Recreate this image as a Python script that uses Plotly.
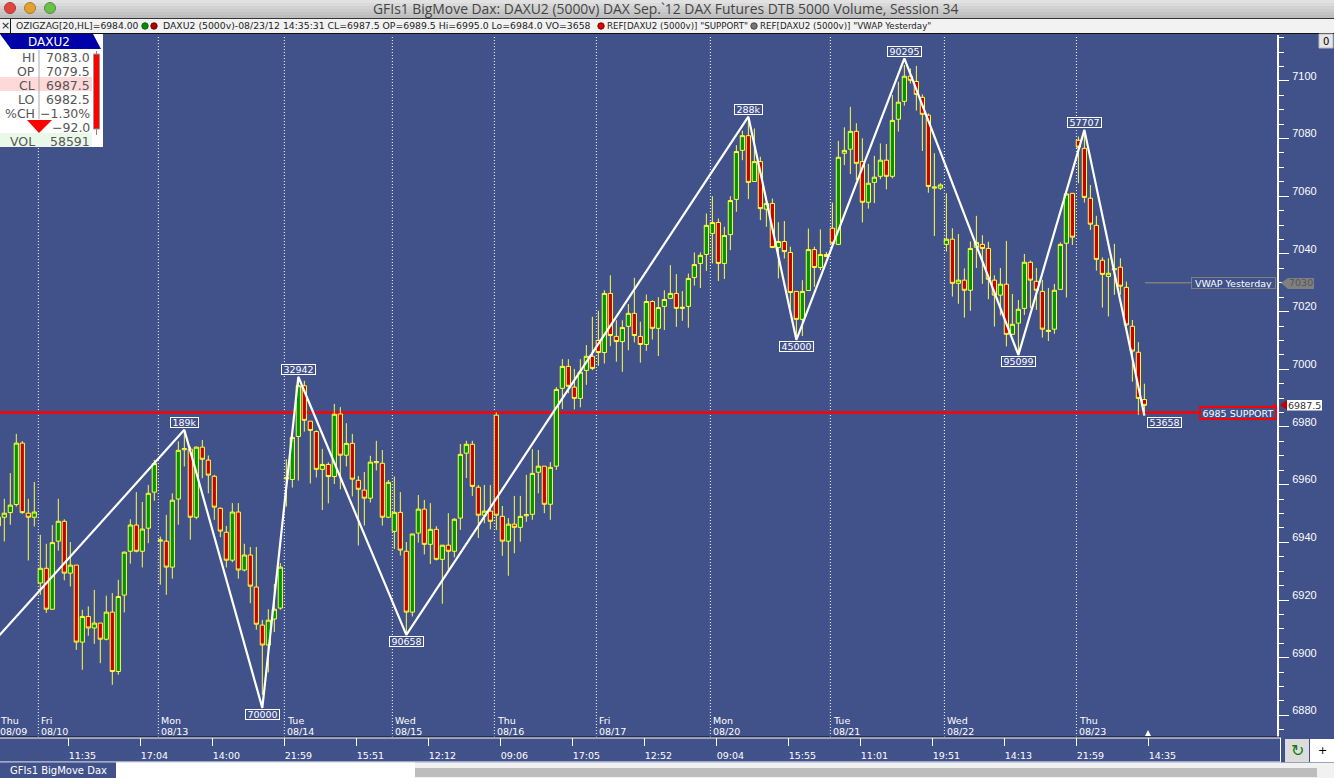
import plotly.graph_objects as go

W, H = 1334, 778
BLUE = '#41518a'
YEL = '#ffff40'

bars = list(range(-1, 191))
opens = [6945.7,6948.7,6950.3,6953.1,6974.4,6950.1,6948.7,6925.9,6931.0,6916.8,6940.4,
    6947.3,6929.3,6932.1,6905.4,6914.3,6910.3,6912.0,6906.4,6915.8,6895.2,
    6921.7,6936.9,6946.0,6936.9,6944.9,6957.4,6940.4,6940.4,6931.4,6955.0,
    6972.1,6972.3,6948.7,6973.0,6968.5,6962.9,6951.8,6943.5,6933.8,6950.5,
    6930.4,6935.6,6924.5,6911.3,6904.4,6913.4,6917.2,6962.0,6961.8,6976.7,
    6994.3,6982.0,6978.4,6965.3,6967.0,6962.8,6984.5,6970.2,6974.3,6961.5,
    6958.1,6955.3,6967.6,6967.4,6948.7,6943.8,6950.4,6936.9,6915.8,6943.2,
    6951.5,6939.3,6944.5,6934.1,6939.0,6936.9,6948.4,6970.9,6974.0,6959.1,
    6949.4,6950.8,6984.1,6949.0,6940.4,6946.3,6945.2,6949.2,6949.7,6964.3,
    6966.4,6953.2,6966.4,6993.4,7001.0,6993.8,6989.9,6999.6,7004.5,7010.0,
    7005.8,7026.3,7011.4,7009.6,7014.9,7019.4,7011.4,7008.6,7023.5,7014.2,
    7021.8,7024.6,7026.3,7021.1,7021.8,7031.8,7036.7,7039.8,7047.1,7050.9,
    7036.7,7046.7,7058.9,7075.9,7081.0,7065.1,7072.0,7055.5,7057.5,7042.2,
    7044.3,7040.5,7027.0,7017.3,7027.3,7041.5,7035.3,7039.8,7048.9,7043.3,
    7074.9,7076.3,7082.5,7072.0,7057.9,7064.8,7066.9,7072.5,7066.9,7086.7,
    7092.9,7101.6,7099.8,7094.3,7088.1,7062.8,7062.8,7043.3,7045.1,7029.8,
    7030.9,7027.4,7042.3,7043.3,7041.9,7030.9,7025.7,7029.5,7012.1,7016.0,
    7021.1,7037.1,7030.5,7027.0,7013.1,7013.9,7027.7,7043.7,7061.0,7079.4,
    7076.6,7059.3,7049.9,7037.8,7032.2,7034.5,7035.4,7028.4,7014.9,7005.9,
    6989.5]
highs = [6948.7,6955.1,6964.0,6977.6,6975.1,6955.1,6960.9,6942.6,6939.5,6946.0,6955.1,
    6948.0,6940.1,6932.1,6916.6,6917.8,6923.5,6912.0,6921.5,6922.4,6927.0,
    6936.8,6948.0,6957.4,6954.0,6959.9,6968.6,6942.0,6949.5,6957.0,6975.0,
    6978.4,6973.2,6973.2,6975.5,6970.1,6963.4,6952.1,6945.7,6953.6,6953.6,
    6939.5,6938.4,6938.4,6913.1,6916.8,6925.6,6932.8,6968.8,6977.0,6996.3,
    6996.0,6982.0,6978.8,6972.4,6967.7,6988.0,6986.9,6981.3,6977.6,6963.0,
    6964.4,6970.0,6975.2,6972.0,6961.6,6962.8,6957.4,6940.1,6942.9,6956.4,
    6954.7,6953.6,6945.6,6939.0,6950.1,6948.4,6974.1,6975.2,6975.2,6959.9,
    6959.9,6959.9,6985.1,6952.6,6948.4,6956.1,6956.1,6963.4,6972.3,6972.0,
    6966.4,6967.8,6993.8,7003.5,7003.5,7000.1,7003.5,7008.4,7018.2,7020.3,
    7027.4,7032.6,7017.0,7017.0,7022.6,7031.7,7016.5,7025.9,7023.9,7025.0,
    7027.4,7036.1,7033.0,7027.1,7033.2,7040.5,7040.5,7054.0,7060.0,7052.3,
    7049.4,7060.0,7077.7,7082.7,7087.5,7083.5,7073.7,7059.8,7059.2,7051.0,
    7051.4,7042.5,7027.0,7030.9,7048.8,7042.5,7048.5,7040.7,7057.8,7079.2,
    7083.9,7091.0,7085.3,7080.1,7071.2,7074.0,7078.3,7078.1,7095.1,7099.7,
    7105.5,7104.3,7105.2,7095.3,7088.7,7074.9,7064.5,7061.0,7048.9,7046.9,
    7035.0,7044.3,7053.2,7046.5,7044.2,7032.6,7035.1,7044.5,7026.1,7024.0,
    7040.0,7037.7,7035.1,7031.0,7028.2,7029.6,7044.0,7061.0,7061.0,7080.7,
    7083.0,7063.9,7053.2,7038.8,7038.5,7043.5,7038.5,7030.4,7017.1,7009.4,
    6995.0]
lows = [6945.7,6940.3,6946.1,6952.4,6949.9,6933.7,6945.5,6921.8,6915.5,6916.6,6937.1,
    6926.8,6924.7,6902.7,6895.8,6907.6,6904.8,6898.1,6906.0,6890.6,6894.1,
    6915.7,6932.6,6936.5,6931.3,6939.7,6954.4,6925.3,6921.8,6927.4,6946.1,
    6966.3,6940.9,6948.0,6962.2,6957.0,6947.8,6941.8,6931.3,6933.1,6927.4,
    6929.9,6918.9,6909.7,6887.1,6894.9,6908.9,6916.6,6952.4,6959.0,6961.4,
    6978.4,6960.4,6962.5,6951.2,6953.5,6960.2,6958.4,6966.3,6955.9,6938.9,
    6945.8,6953.8,6964.9,6945.8,6948.4,6937.7,6935.4,6907.9,6914.3,6939.9,
    6935.8,6932.5,6933.7,6918.7,6930.4,6934.8,6944.3,6962.3,6956.1,6941.5,
    6946.6,6944.5,6944.3,6935.3,6928.4,6936.2,6940.2,6947.1,6947.8,6957.0,
    6950.1,6947.8,6965.1,6986.2,6991.7,6986.1,6986.8,6994.6,6999.7,7001.2,
    7002.0,7008.0,7002.6,6999.1,7006.6,7009.3,7002.3,7006.4,7010.3,7004.6,
    7013.6,7024.3,7014.7,7016.8,7014.4,7029.0,7028.2,7034.1,7036.7,7030.6,
    7031.3,7041.3,7054.6,7072.5,7059.0,7065.0,7051.7,7049.4,7042.2,7031.5,
    7038.4,7021.1,7010.1,7011.5,7027.2,7028.6,7034.4,7039.0,7042.0,7043.1,
    7070.8,7067.7,7065.6,7050.9,7055.7,7057.6,7065.9,7062.4,7066.2,7082.4,
    7091.4,7099.1,7089.7,7075.7,7061.2,7046.2,7062.2,7040.8,7025.2,7022.7,
    7017.9,7020.3,7035.1,7029.6,7024.3,7014.8,7018.7,7007.9,7012.1,7005.6,
    7018.8,7021.2,7020.6,7011.0,7009.8,7012.3,7027.7,7024.9,7043.1,7064.5,
    7057.8,7048.3,7034.2,7021.4,7018.3,7025.8,7025.8,7015.0,6995.7,6984.2,
    6984.0]
closes = [6948.7,6950.1,6952.9,6974.4,6950.3,6948.7,6950.5,6931.0,6916.8,6939.9,6947.3,
    6929.3,6932.1,6905.4,6914.3,6910.3,6912.0,6906.4,6915.8,6895.2,6921.2,
    6936.6,6946.0,6936.9,6944.6,6957.0,6967.3,6940.8,6931.4,6954.6,6971.9,
    6972.5,6948.7,6973.0,6968.8,6963.3,6952.2,6943.9,6933.8,6950.5,6930.4,
    6935.6,6924.8,6911.6,6904.4,6913.0,6916.8,6931.4,6962.4,6976.4,6994.3,
    6982.3,6978.8,6965.3,6967.0,6962.8,6984.4,6970.2,6974.3,6961.9,6958.4,
    6955.3,6967.8,6968.0,6948.7,6960.8,6950.4,6937.3,6915.8,6942.9,6951.5,
    6939.3,6944.5,6934.1,6939.0,6936.9,6948.0,6970.5,6974.0,6959.4,6949.4,
    6950.8,6947.3,6949.4,6940.4,6946.3,6945.2,6949.0,6949.6,6963.9,6966.4,
    6953.2,6966.0,6993.0,7001.0,6994.1,6989.9,6999.0,7004.5,7000.3,7005.8,
    7026.3,7011.7,7009.6,7014.5,7019.4,7011.7,7008.6,7023.5,7014.2,7021.4,
    7024.2,7026.3,7021.1,7021.5,7031.5,7036.3,7039.5,7049.9,7050.9,7036.7,
    7046.4,7058.5,7075.5,7081.0,7064.8,7072.0,7055.7,7057.5,7042.2,7044.3,
    7040.8,7026.6,7017.3,7027.0,7041.5,7035.3,7039.8,7039.1,7043.7,7073.5,
    7075.9,7082.5,7071.4,7057.9,7064.5,7066.6,7072.5,7066.9,7086.3,7092.6,
    7101.6,7100.2,7095.3,7088.4,7063.4,7063.2,7063.9,7045.1,7029.8,7030.9,
    7027.4,7041.9,7044.0,7041.9,7031.2,7025.7,7029.5,7012.1,7015.6,7020.8,
    7037.1,7030.9,7027.4,7013.9,7013.5,7027.4,7043.3,7060.8,7045.8,7077.0,
    7059.6,7050.3,7038.1,7032.9,7033.3,7034.9,7028.8,7015.4,7006.3,6989.9,
    6987.5]

zz_bars = [-2, 30, 43, 49, 67, 124, 132, 150, 169, 180, 190]
zz_vals = [6905.0, 6979.0, 6882.6, 6997.4, 6907.9, 7087.6, 7010.2, 7107.8, 7005.0, 7083.0, 6984.0]
zz_text = ['', '189k', '70000', '32942', '90658', '288k', '45000', '90295', '95099', '57707', '53658']

support = 6985
vwap = 7030
last_close = 6987.5

day_bars = [6, 26, 47, 65, 82, 99, 118, 138, 157, 179]
day_names = ['Fri', 'Mon', 'Tue', 'Wed', 'Thu', 'Fri', 'Mon', 'Tue', 'Wed', 'Thu']
day_dates = ['08/10', '08/13', '08/14', '08/15', '08/16', '08/17', '08/20', '08/21', '08/22', '08/23']

time_bars = [11, 23, 35, 47, 59, 71, 83, 95, 107, 119, 131, 143, 155, 167, 179, 191]
time_text = ['11:35', '17:04', '14:00', '21:59', '15:51', '12:12', '09:06', '17:05',
             '12:52', '09:04', '15:55', '11:01', '19:51', '14:13', '21:59', '14:35']

panel_labels = ['HI', 'OP', 'CL', 'LO', '%CH', '', 'VOL']
panel_values = ['7083.0', '7079.5', '6987.5', '6982.5', '\u22121.30%', '\u221292.0', '58591']


# screen pixels -> paper coords, for the window chrome around the chart
def px(x):
    return x / W


def py(y):
    return 1 - y / H


def box(x0, y0, x1, y1, fill, line=None, lw=1):
    return dict(type='rect', xref='paper', yref='paper', x0=px(x0), x1=px(x1), y0=py(y0), y1=py(y1),
                fillcolor=fill, line=dict(color=line or fill, width=lw if line else 0), layer='above')


def poly(points, fill):
    path = 'M ' + ' L '.join(f'{px(a):.5f} {py(b):.5f}' for a, b in points) + ' Z'
    return dict(type='path', xref='paper', yref='paper', path=path, fillcolor=fill, line=dict(width=0), layer='above')


def dot(cx, cy, r, fill, line):
    return dict(type='circle', xref='paper', yref='paper', x0=px(cx - r), x1=px(cx + r), y0=py(cy + r), y1=py(cy - r),
                fillcolor=fill, line=dict(color=line, width=1), layer='above')


def label(x, y, text, size=10, color='#222222', anchor='left', font='DejaVu Sans'):
    return dict(xref='paper', yref='paper', x=px(x), y=py(y), text=text, showarrow=False, xanchor=anchor,
                yanchor='middle', font=dict(family=font, size=size, color=color), borderpad=0, borderwidth=0)


def flag(x, y, text, color='white', **kw):
    return dict(xref='paper', yref='y', x=px(x), y=y, text=text, showarrow=False, xanchor='center', yanchor='middle',
                font=dict(family='DejaVu Sans', size=9.5, color=color), **kw)


fig = go.Figure()
fig.add_trace(go.Candlestick(
    x=bars, open=opens, high=highs, low=lows, close=closes,
    increasing=dict(line=dict(color=YEL, width=1), fillcolor='#009400'),
    decreasing=dict(line=dict(color=YEL, width=1), fillcolor='#c40000'),
    whiskerwidth=0, showlegend=False, hoverinfo='skip',
))
fig.add_trace(go.Scatter(x=zz_bars, y=zz_vals, mode='lines', line=dict(color='white', width=2.2),
                         showlegend=False, hoverinfo='skip'))

shapes = []
for b in day_bars:
    shapes.append(dict(type='line', xref='x', yref='paper', x0=b - 0.33, x1=b - 0.33, y0=py(737), y1=py(35),
                       line=dict(color='white', width=1, dash='1px,2px'), layer='below'))
shapes.append(dict(type='line', xref='x', yref='y', x0=-1, x1=199.3, y0=support, y1=support,
                   line=dict(color='#ff0000', width=2.6), layer='below'))
shapes.append(dict(type='line', xref='x', yref='y', x0=190.1, x1=197.8, y0=vwap, y1=vwap,
                   line=dict(color='#7f7f7f', width=1.5), layer='below'))

# title bar
for k, c in enumerate(['#e2e2e2', '#dadada', '#d2d2d2', '#cbcbcb', '#c4c4c4', '#bebebe']):
    shapes.append(box(0, k * 3, W, (k + 1) * 3, c))
shapes.append(box(0, 18, W, 19, '#333333'))
shapes.append(dot(10, 8, 5.5, '#e2453f', '#a83a3a'))
shapes.append(dot(30, 8, 5.5, '#e3a130', '#a87a30'))
shapes.append(dot(50, 8, 5.5, '#6cc04a', '#4f8f40'))

# study strip
shapes.append(box(0, 19, W, 33, '#f2f2f2'))
shapes.append(box(0, 33, W, 34, '#111111'))
shapes.append(box(10, 19, 11, 33, '#111111'))
shapes.append(dot(145, 26, 3.2, '#0a8a0a', '#0a5a0a'))
shapes.append(dot(154, 26, 3.2, '#b00000', '#700000'))
shapes.append(dot(601, 26, 3.2, '#e00000', '#800000'))
shapes.append(dot(754, 26, 3.2, '#777777', '#444444'))

# quote panel
shapes.append(box(0, 34, 103, 147, 'white'))
shapes.append(poly([(0, 34), (93, 34), (101, 49), (11, 49)], '#0000a8'))
shapes.append(box(0, 77, 92, 91, '#ffd9d9'))
shapes.append(box(0, 133, 92, 147, '#e9f9e9'))
shapes.append(box(38.5, 50, 39.5, 119, '#aaaaaa'))
shapes.append(box(96, 51, 97, 135, '#888888'))
shapes.append(box(93.5, 54, 99.5, 129, '#ff0000', '#999999'))
shapes.append(poly([(27, 120), (52, 120), (39, 133)], '#ff0000'))

# price flags on the right
shapes.append(poly([(1281, 283), (1288, 278), (1288, 289)], '#808080'))
shapes.append(box(1288, 278, 1314, 289, '#808080'))
shapes.append(poly([(1280, 405), (1287, 400), (1287, 410)], '#c00000'))
shapes.append(box(1287, 400, 1322, 410.5, 'white'))
shapes.append(box(1273, 404, 1276, 406, '#ff0000'))

# time axis strip and bottom of the window
shapes.append(box(0, 736.5, 1280, 737.5, '#111111'))
shapes.append(box(0, 737.5, 1280, 738.5, 'white'))
shapes.append(box(1280, 737.5, 1281, 762, 'white'))
shapes.append(box(0, 761.5, 1281, 762.5, 'white'))
shapes.append(poly([(1145, 736), (1151, 736), (1148, 730)], 'white'))
shapes.append(box(1285, 739, 1309, 762, '#dcdcdc'))
shapes.append(box(1310, 739, W, 762, 'white'))
shapes.append(box(0, 762.5, W, H, '#f1f1f1'))
shapes.append(box(0, 762.5, 116, H, BLUE))
shapes.append(box(116, 762.5, 415, H, 'white'))
shapes.append(box(415, 768, 1317, 777, '#bdbdbd'))
shapes.append(box(1319, 34, 1333, 48, '#e6e6e6', '#bbbbbb'))

notes = []
notes.append(label(665, 8.5, 'GFIs1 BigMove Dax: DAXU2 (5000v) DAX Sep.`12 DAX Futures DTB 5000 Volume, Session 34',
                   size=13.9, color='#444444', anchor='center', font='Open Sans'))
notes.append(label(5, 26, '\u00d7', size=11, anchor='center'))
notes.append(label(16, 26, 'OZIGZAG[20,HL]=6984.00', size=9.2))
notes.append(label(163, 26, 'DAXU2 (5000v)-08/23/12 14:35:31 CL=6987.5 OP=6989.5 Hi=6995.0 Lo=6984.0 VO=3658', size=9.3))
notes.append(label(607, 26, 'REF[DAXU2 (5000v)] "SUPPORT"', size=8.7))
notes.append(label(760, 26, 'REF[DAXU2 (5000v)] "VWAP Yesterday"', size=8.7))

notes.append(label(49, 42, 'DAXU2', size=12, color='white', anchor='center'))
row_y = [57.5, 71.5, 85.5, 99.5, 113.5, 127.5, 141.5]
for y, name, val in zip(row_y, panel_labels, panel_values):
    if name:
        notes.append(label(35, y, name, size=12.5, color='#555555', anchor='right'))
    notes.append(label(90, y, val, size=12.5, color='#555555', anchor='right'))

notes.append(label(0, 720, 'Thu', size=9.5, color='white'))
notes.append(label(0, 731, '08/09', size=9.5, color='white'))
for b, name, date in zip(day_bars, day_names, day_dates):
    for y, t in ((720, name), (731, date)):
        notes.append(dict(x=b - 0.33, xref='x', y=py(y), yref='paper', text=t, showarrow=False, xanchor='left',
                          yanchor='middle', xshift=1, font=dict(family='DejaVu Sans', size=9.5, color='white')))

# zigzag swing labels, above the highs and below the lows
for k, (b, v, t) in enumerate(zip(zz_bars, zz_vals, zz_text)):
    if not t:
        continue
    up = k % 2 == 1
    wide = 27 if t.endswith('k') else 33
    notes.append(dict(x=b, y=v, text=t, showarrow=False, yshift=7 if up else -7, xshift=20 if b == 190 else 0,
                      width=wide, height=9, borderpad=0, borderwidth=1, bordercolor='white', bgcolor=BLUE,
                      font=dict(family='DejaVu Sans', size=9.5, color='white')))

notes.append(flag(1233.5, vwap, 'VWAP Yesterday', width=83, height=10, borderpad=0, borderwidth=1,
                  bordercolor='#7f7f7f', bgcolor=BLUE))
notes.append(flag(1238, support, '6985 SUPPORT', width=74, height=10, borderpad=0, borderwidth=2,
                  bordercolor='#ff0000', bgcolor=BLUE))
notes.append(flag(1301, vwap, '7030', color='#555555'))
notes.append(flag(1304.5, last_close, '6987.5', color='#333333'))
notes.append(label(58, 770, 'GFIs1 BigMove Dax', size=10, color='white', anchor='center'))
notes.append(label(1297, 750, '\u21bb', size=16, color='#0a7a0a', anchor='center'))
notes.append(label(1322, 750, '+', size=11, color='black', anchor='center'))
notes.append(label(1326, 41, '0', size=10, color='black', anchor='center'))

fig.update_layout(
    width=W, height=H,
    margin=dict(l=0, r=0, t=0, b=0),
    paper_bgcolor=BLUE,
    plot_bgcolor=BLUE,
    showlegend=False,
    shapes=shapes,
    annotations=notes,
    hovermode=False,
    boxgap=0.3,
    boxgroupgap=0,
)
fig.update_xaxes(
    domain=[0, 1277 / W],
    range=[-0.717, 212.1],
    showgrid=False,
    zeroline=False,
    rangeslider_visible=False,
    tickmode='array',
    tickvals=[b - 0.33 for b in time_bars],
    ticktext=time_text,
    ticks='outside',
    ticklen=8,
    tickcolor='white',
    tickfont=dict(family='DejaVu Sans', size=9.5, color='white'),
    tickangle=0,
    ticklabelshift=14,
    ticklabelstandoff=2,
)
fig.update_yaxes(
    domain=[py(737), py(35)],
    range=[6872.5, 7115.9],
    side='right',
    showgrid=False,
    zeroline=False,
    showline=True,
    linecolor='white',
    linewidth=2,
    tick0=6880,
    dtick=20,
    ticks='outside',
    ticklen=10,
    tickcolor='white',
    tickformat='d',
    tickfont=dict(family='Liberation Sans', size=11, color='white'),
    ticklabelshift=-5,
    ticklabelstandoff=1,
    minor=dict(tick0=6880, dtick=5, ticks='outside', ticklen=5, tickcolor='white', showgrid=False),
)

fig.write_html('out.html', config={'displayModeBar': False},
               post_script="document.body.style.margin='0';document.body.style.overflow='hidden';")
